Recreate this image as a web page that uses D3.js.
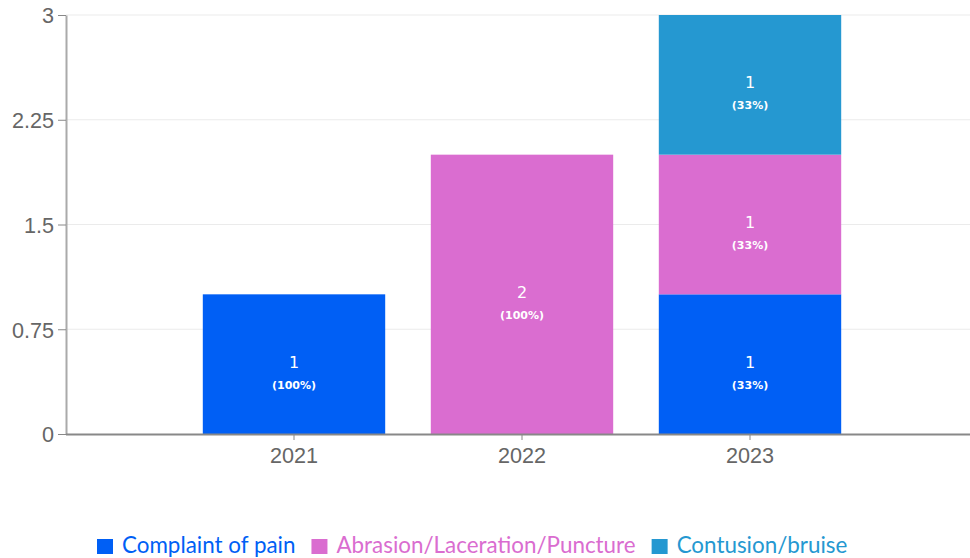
<!DOCTYPE html>
<html>
<head>
<meta charset="utf-8">
<script src="https://cdn.jsdelivr.net/npm/d3@7"></script>
<style>
  body { margin: 0; background: #fff; }
</style>
</head>
<body>
<svg id="chart" width="970" height="558"></svg>
<script>
const years = ["2021", "2022", "2023"];
const seriesNames = ["Complaint of pain", "Abrasion/Laceration/Puncture", "Contusion/bruise"];
const seriesColors = ["#005ff5", "#da6dd0", "#2598d1"];
const painValues = [1, 0, 1];
const abrasionValues = [0, 2, 1];
const contusionValues = [0, 0, 1];
const yTicks = [0, 0.75, 1.5, 2.25, 3];

const svg = d3.select("#chart");
const width = +svg.attr("width");
const margin = { top: 15, left: 66, bottom: 434 };
const tickFont = "'Liberation Sans', Arial, sans-serif";
const labelFont = "'DejaVu Sans', Verdana, sans-serif";

const rows = years.map((y, i) => ({
  year: y,
  s0: painValues[i],
  s1: abrasionValues[i],
  s2: contusionValues[i]
}));
const stacked = d3.stack().keys(["s0", "s1", "s2"])(rows);

const x = d3.scaleBand()
  .domain(years)
  .range([margin.left, 978])
  .paddingInner(0.2)
  .paddingOuter(0.6);

const y = d3.scaleLinear()
  .domain([0, 3])
  .range([margin.bottom, margin.top]);

// grid
svg.append("g")
  .selectAll("line")
  .data(yTicks.filter(d => d > 0))
  .enter()
  .append("line")
  .attr("x1", margin.left)
  .attr("x2", width)
  .attr("y1", d => y(d))
  .attr("y2", d => y(d))
  .attr("stroke", "#ebebeb")
  .attr("stroke-width", 1);

// bars
const layer = svg.append("g")
  .selectAll("g")
  .data(stacked)
  .enter()
  .append("g")
  .attr("fill", (d, i) => seriesColors[i]);

layer.selectAll("rect")
  .data(d => d.filter(p => p[1] - p[0] > 0))
  .enter()
  .append("rect")
  .attr("x", d => x(d.data.year))
  .attr("y", d => y(d[1]))
  .attr("width", x.bandwidth())
  .attr("height", d => y(d[0]) - y(d[1]));

// value + percent labels
layer.each(function (s) {
  const g = d3.select(this);
  s.filter(p => p[1] - p[0] > 0).forEach(p => {
    const v = p[1] - p[0];
    const total = p.data.s0 + p.data.s1 + p.data.s2;
    const cx = x(p.data.year) + x.bandwidth() / 2;
    const cy = (y(p[0]) + y(p[1])) / 2;
    g.append("text")
      .attr("x", cx)
      .attr("y", cy + 3.5)
      .attr("text-anchor", "middle")
      .attr("fill", "#fff")
      .attr("font-family", labelFont)
      .attr("font-size", 16)
      .text(v);
    g.append("text")
      .attr("x", cx)
      .attr("y", cy + 24.5)
      .attr("text-anchor", "middle")
      .attr("fill", "#fff")
      .attr("font-family", labelFont)
      .attr("font-weight", "bold")
      .attr("font-size", 11)
      .text("(" + Math.round(v / total * 100) + "%)");
  });
});

// y axis
const yAxis = svg.append("g")
  .attr("transform", `translate(${margin.left},0)`)
  .call(d3.axisLeft(y).tickValues(yTicks).tickFormat(d => d).tickSize(8).tickSizeOuter(0));
yAxis.select(".domain").attr("stroke", "#aaa").attr("stroke-width", 2);
yAxis.selectAll(".tick line").attr("stroke", "#888");
yAxis.selectAll("text")
  .attr("fill", "#666")
  .attr("font-family", tickFont)
  .attr("font-size", 21.6)
  .attr("x", -12)
  .attr("dy", "0.36em");

// x axis
const xAxis = svg.append("g")
  .attr("transform", `translate(0,${margin.bottom})`)
  .call(d3.axisBottom(x).tickSize(6).tickSizeOuter(0));
xAxis.select(".domain").attr("d", `M${margin.left},0.5H${width}`).attr("stroke", "#888").attr("stroke-width", 2);
xAxis.selectAll(".tick line").attr("stroke", "#888");
xAxis.selectAll("text")
  .attr("fill", "#666")
  .attr("font-family", tickFont)
  .attr("font-size", 21.6)
  .attr("y", 29)
  .attr("dy", null);

// legend, flowing left to right
const legend = svg.append("g").attr("transform", "translate(97,539)");
let lx = 0;
seriesNames.forEach((name, i) => {
  const item = legend.append("g").attr("transform", `translate(${lx},0)`);
  item.append("rect")
    .attr("width", 16)
    .attr("height", 15)
    .attr("fill", seriesColors[i]);
  const t = item.append("text")
    .attr("x", 25)
    .attr("y", 14)
    .attr("fill", seriesColors[i])
    .attr("font-family", "Lato, sans-serif")
    .attr("font-size", 22.4)
    .text(name);
  lx += 25 + t.node().getComputedTextLength() + 16;
});
</script>
</body>
</html>
